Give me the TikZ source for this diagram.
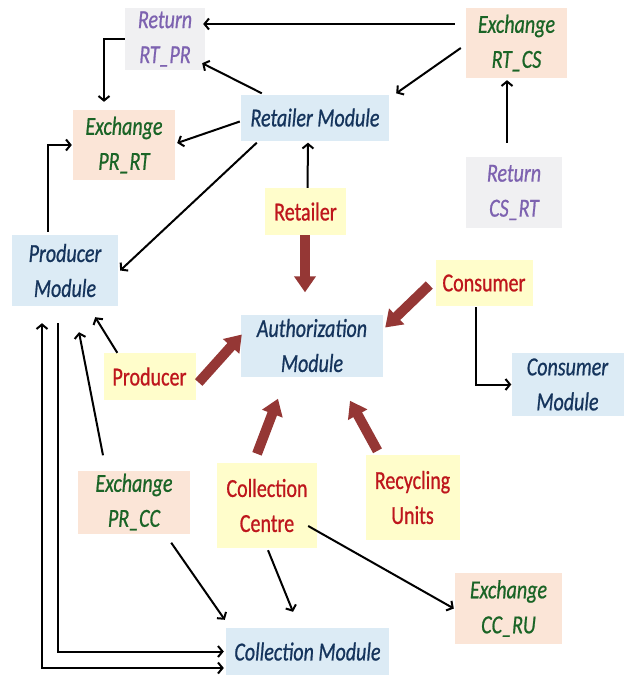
\documentclass[tikz,border=0pt]{standalone}
\usepackage{fontspec}
\setmainfont{Carlito}[FakeStretch=0.77,FakeBold=0.7]
\usetikzlibrary{arrows.meta,calc}
\definecolor{modfill}{HTML}{DCEBF5}
\definecolor{modtext}{HTML}{15345C}
\definecolor{exfill}{HTML}{FBE5D7}
\definecolor{extext}{HTML}{1A6426}
\definecolor{retfill}{HTML}{F0F0F2}
\definecolor{rettext}{HTML}{7D62B0}
\definecolor{actfill}{HTML}{FFFDCB}
\definecolor{acttext}{HTML}{BE161C}
\definecolor{bigarrow}{HTML}{953735}
\begin{document}
\begin{tikzpicture}[x=1pt,y=-1pt,
  box/.style={rectangle, inner sep=0pt, align=center},
  modbox/.style={box, fill=modfill, text=modtext, font=\fontsize{26}{35}\selectfont\itshape},
  exbox/.style={box, fill=exfill, text=extext, font=\fontsize{26}{35}\selectfont\itshape},
  retbox/.style={box, fill=retfill, text=rettext, font=\fontsize{26}{35}\selectfont\itshape},
  actbox/.style={box, fill=actfill, text=acttext, font=\fontsize{26}{35}\selectfont},
  arr/.style={draw=black, line width=2pt, -{Straight Barb[length=4.5pt,width=11pt]}},
  darr/.style={draw=black, line width=2pt, {Straight Barb[length=4.5pt,width=11pt]}-{Straight Barb[length=4.5pt,width=11pt]}},
  thick/.style={draw=bigarrow, line width=10pt, -{Triangle[length=16pt,width=21pt]}}
]
\path[use as bounding box, fill=white] (0,0) rectangle (629,675);

% nodes
\node[retbox, minimum width=80pt, minimum height=62pt] (rtpr) at (165,39) {Return\\RT\_PR};
\node[exbox, minimum width=101pt, minimum height=70pt] (rtcs) at (516.5,43) {Exchange\\RT\_CS};
\node[exbox, minimum width=102pt, minimum height=70pt] (prrt) at (124,145) {Exchange\\PR\_RT};
\node[modbox, minimum width=148pt, minimum height=46pt] (retm) at (315,117.5) {Retailer Module};
\node[retbox, minimum width=96pt, minimum height=71pt] (csrt) at (514,192.5) {Return\\CS\_RT};
\node[actbox, minimum width=81pt, minimum height=47pt] (retailer) at (305.5,211.5) {Retailer};
\node[modbox, minimum width=106pt, minimum height=71pt] (prm) at (65,270.5) {Producer\\Module};
\node[actbox, minimum width=97pt, minimum height=46pt] (consumer) at (484,283) {Consumer};
\node[modbox, minimum width=142pt, minimum height=62pt] (auth) at (312,345.5) {Authorization\\Module};
\node[modbox, minimum width=112pt, minimum height=63pt] (consm) at (567.5,384.5) {Consumer\\Module};
\node[actbox, minimum width=92pt, minimum height=47pt] (producer) at (149.5,376.5) {Producer};
\node[exbox, minimum width=112pt, minimum height=63pt] (prcc) at (134,502) {Exchange\\PR\_CC};
\node[actbox, minimum width=100pt, minimum height=85pt] (cc) at (267,505.5) {Collection\\Centre};
\node[actbox, minimum width=94pt, minimum height=85pt] (ru) at (412.5,497.5) {Recycling\\Units};
\node[exbox, minimum width=107pt, minimum height=71pt] (ccru) at (508.5,608.5) {Exchange\\CC\_RU};
\node[modbox, minimum width=163pt, minimum height=47pt] (colm) at (307.5,651.5) {Collection Module};

% thin connectors
\draw[arr] ($(rtcs.west)+(-11,-19)$) -- ($(rtpr.east)+(-2,-15)$);
\draw[arr] ($(rtcs.west)+(-5,5)$) -- ($(retm.north east)+(7,-1)$);
\draw[arr] ($(csrt.north)+(-7,-14)$) -- ($(rtcs.south)+(-9.5,2)$);
\draw[arr] ($(retm.north west)+(21,-1)$) -- ($(rtpr.south east)+(-3,-7)$);
\draw[arr] (rtpr.west) -| ($(prrt.north)+(-20,-8)$);
\draw[arr] ($(retm.west)+(-1,4)$) -- ($(prrt.east)+(2,-2)$);
\draw[arr] ($(retm.south west)+(16,2)$) -- ($(prm.east)+(2,0)$);
\draw[arr] ($(retailer.north)+(2,0)$) -- ($(retm.south)+(-7,2)$);
\draw[arr] ($(prm.north)+(-17,-3)$) |- ($(prrt.west)+(-1,0)$);
\draw[arr] ($(consumer.south)+(-8,1)$) |- ($(consm.west)+(0,0)$);
\draw[arr] ($(producer.north west)+(14,0)$) -- ($(prm.south east)+(-23,11)$);
\draw[arr] ($(prcc.north)+(-31,-15)$) -- ($(prm.south)+(14,26)$);
\draw[arr] ($(prm.south)+(-7,17)$) |- ($(colm.west)+(-2,0)$);
\draw[darr] ($(prm.south)+(-23,17)$) |- ($(colm.west)+(-2,16.5)$);
\draw[arr] ($(prcc.south east)+(-19,9)$) -- ($(colm.north west)+(-1,-8)$);
\draw[arr] ($(cc.south)+(1,2)$) -- ($(colm.north)+(-14.5,-16)$);
\draw[arr] ($(cc.east)+(-9,20.5)$) -- ($(ccru.west)+(-1,0)$);

% thick arrows
\draw[thick] ($(retailer.south)+(-0.5,0)$) -- ($(auth.north)+(-7,-22)$);
\draw[thick] ($(consumer.west)+(-6,2)$) -- ($(auth.east)+(2,-18)$);
\draw[thick] ($(producer.east)+(3,6)$) -- ($(auth.west)+(1,-11)$);
\draw[thick] ($(cc.north)+(-10,-9)$) -- ($(auth.south)+(-34,22)$);
\draw[thick] ($(ru.north)+(-35,-4)$) -- ($(auth.south)+(38,24)$);
\end{tikzpicture}
\end{document}
